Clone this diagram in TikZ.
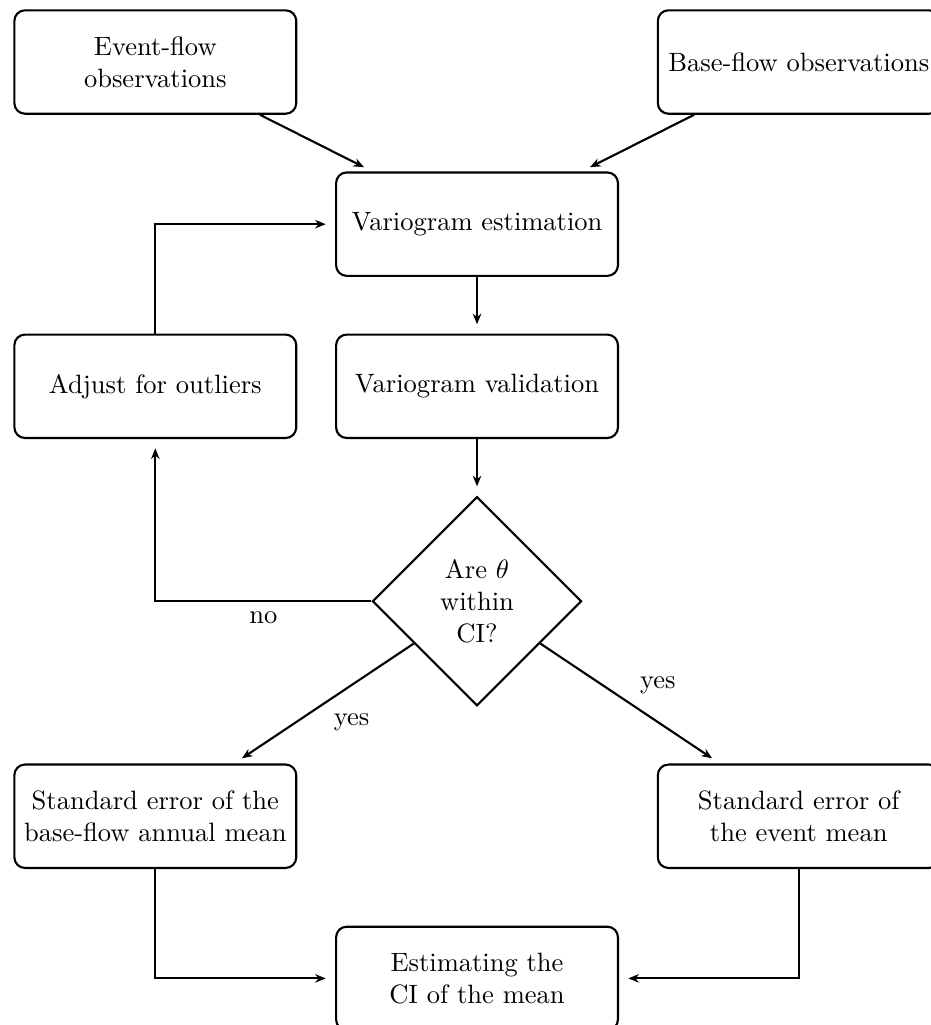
\documentclass[tikz,border=0pt]{standalone}
\usepackage{amsmath,amssymb}
\usepackage{xcolor}
\usepackage{tikz}
\usetikzlibrary{positioning, shapes.geometric, arrows.meta}

\begin{document}
\begin{tikzpicture}[
    node distance=0.75cm and 0.5cm,
    proc/.style={draw, thick, rounded corners, text width=3.5cm, align=center, minimum height=1.37cm},
    decide/.style={draw, thick, diamond, aspect=1, text width=1.3cm, align=center, inner sep=0pt, minimum width=2.77cm, minimum height=2.77cm},
    flow/.style={draw, thick, -{Stealth[length=4pt, width=3.2pt]}, shorten >=3.5pt},
  ]
  \useasboundingbox (-6.32,-10.61) rectangle (6.01,2.97);
  \node[proc] (varest) {Variogram estimation};
  \node[proc, below=of varest] (varval) {Variogram validation};
  \node[proc, left=of varval] (adjust) {Adjust for outliers};
  \node[proc, above left=of varest] (eventobs) {Event-flow observations};
  \node[proc, above right=of varest] (baseobs) {Base-flow observations};
  \node[decide, below=of varval] (within) {Are $\theta$ within CI?};
  \node[proc, anchor=north] (sebase) at ([yshift=-0.75cm]adjust |- within.south) {Standard error of the base-flow annual mean};
  \node[proc, anchor=north] (seevent) at ([yshift=-0.75cm]baseobs |- within.south) {Standard error of the event mean};
  \node[proc, anchor=north] (estci) at ([yshift=-0.75cm]within |- sebase.south) {Estimating the CI of the mean};

  \draw[flow] (eventobs) -- (varest);
  \draw[flow] (baseobs) -- (varest);
  \draw[flow] (varest) -- (varval);
  \draw[flow] (varval) -- (within);
  \draw[flow] (adjust) |- (varest);
  \draw[flow] (within) -| (adjust) node[pos=0.25, below] {no};
  \draw[flow] (within) -- node[below right] {yes} (sebase);
  \draw[flow] (within) -- node[above right] {yes} (seevent);
  \draw[flow] (sebase) |- (estci);
  \draw[flow] (seevent) |- (estci);
\end{tikzpicture}
\end{document}
